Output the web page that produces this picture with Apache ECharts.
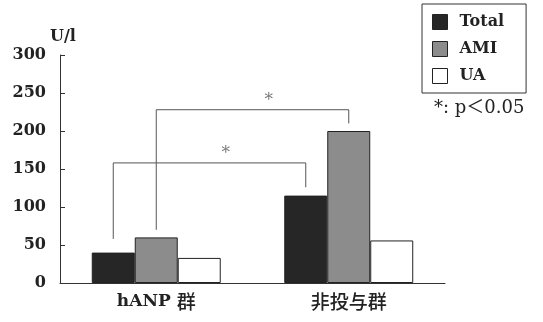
<!DOCTYPE html>
<html>
<head>
<meta charset="utf-8">
<script src="https://cdn.jsdelivr.net/npm/echarts@6/dist/echarts.min.js"></script>
<style>html,body{margin:0;padding:0;background:#fff}#c{width:543px;height:322px}</style>
</head>
<body>
<div id="c"></div>
<script>
const categories = ['hANP 群', '非投与群'];
const seriesNames = ['Total', 'AMI', 'UA'];
const totalValues = [40, 115];
const amiValues = [60, 200];
const uaValues = [33, 56];
const yTicks = [0, 50, 100, 150, 200, 250, 300];
// brackets: [category, seriesIndex] at each end, bar level, leg ends
const bracketFrom = [[0, 0], [0, 1]];
const bracketTo = [[1, 0], [1, 1]];
const bracketLevel = [158, 228];
const bracketLeftEnd = [58, 70];
const bracketRightEnd = [126, 210];
const footnote = '*: p＜0.05';

const serif = "'DejaVu Serif', 'Noto Sans CJK JP', serif";
const cjk = "'Noto Sans CJK JP', sans-serif";
const gapPct = 0.33;
const barW = (1 - gapPct) / 3;
function barCenter(cat, s) { return cat + 0.5 + (s - 1) * barW; }

const colors = ['#262626', '#8c8c8c', '#ffffff'];
const valuesBySeries = [totalValues, amiValues, uaValues];

const series = seriesNames.map((n, i) => ({
  name: n, type: 'bar', data: valuesBySeries[i],
  barGap: 0, barCategoryGap: (gapPct * 100) + '%',
  itemStyle: { color: colors[i], borderColor: '#222', borderWidth: 1 },
  emphasis: { disabled: true }
}));

bracketLevel.forEach((lv, k) => {
  const x1 = barCenter(bracketFrom[k][0], bracketFrom[k][1]);
  const x2 = barCenter(bracketTo[k][0], bracketTo[k][1]);
  series.push({
    type: 'line', xAxisIndex: 1, yAxisIndex: 0, symbol: 'none', silent: true,
    lineStyle: { color: '#555', width: 1 },
    data: [[x1, bracketLeftEnd[k]], [x1, lv], [x2, lv], [x2, bracketRightEnd[k]]]
  });
  series.push({
    type: 'scatter', xAxisIndex: 1, yAxisIndex: 0, symbolSize: 0, silent: true,
    data: [[(x1 + x2) / 2 + 0.085, lv]],
    label: { show: true, formatter: '*', position: 'top', distance: 1,
      fontFamily: serif, fontSize: 17, color: '#555' }
  });
});

function splitLabel(v) {
  return v.replace(/([\u3000-\u9fff\uff00-\uffef]+)/g, '{c|$1}').replace(/(^|\})([^{}]+)(?=\{|$)/g, '$1{a|$2}');
}

const chart = echarts.init(document.getElementById('c'));
chart.setOption({
  animation: false,
  backgroundColor: '#fff',
  grid: { left: 60, right: 98, top: 55, bottom: 39 },
  legend: {
    data: seriesNames, orient: 'vertical', left: 422, top: 4,
    borderColor: '#333', borderWidth: 1,
    padding: [10, 22, 9, 10], itemWidth: 15, itemHeight: 15, itemGap: 11,
    icon: 'rect',
    textStyle: { fontFamily: serif, fontWeight: 'bold', fontSize: 16, color: '#222', padding: [0, 0, 0, 7] },
    itemStyle: { borderColor: '#222', borderWidth: 1 }
  },
  xAxis: [{
    type: 'category', data: categories,
    axisLine: { lineStyle: { color: '#333', width: 1 } },
    axisTick: { inside: true, length: 5, lineStyle: { color: '#333' } },
    axisLabel: {
      margin: 9, formatter: splitLabel,
      rich: {
        a: { fontFamily: serif, fontWeight: 'bold', fontSize: 17, color: '#222' },
        c: { fontFamily: cjk, fontWeight: 500, fontSize: 19, color: '#222' }
      }
    }
  }, {
    type: 'value', min: 0, max: 2, show: false
  }],
  yAxis: {
    type: 'value', min: yTicks[0], max: yTicks[yTicks.length - 1], interval: yTicks[1] - yTicks[0],
    name: 'U/l', nameLocation: 'end', nameGap: 10,
    nameTextStyle: { fontFamily: serif, fontWeight: 'bold', fontSize: 16, color: '#222', align: 'center', padding: [0, 0, 0, 6] },
    axisLine: { show: true, lineStyle: { color: '#333', width: 1 } },
    axisTick: { show: true, inside: true, length: 5, lineStyle: { color: '#333' } },
    splitLine: { show: false },
    axisLabel: { fontFamily: serif, fontWeight: 'bold', fontSize: 16, color: '#222', margin: 14 }
  },
  graphic: [{
    type: 'text', left: 434, top: 99,
    style: { text: footnote, font: '18px ' + serif, fill: '#222' }
  }],
  series: series
});
</script>
</body>
</html>
